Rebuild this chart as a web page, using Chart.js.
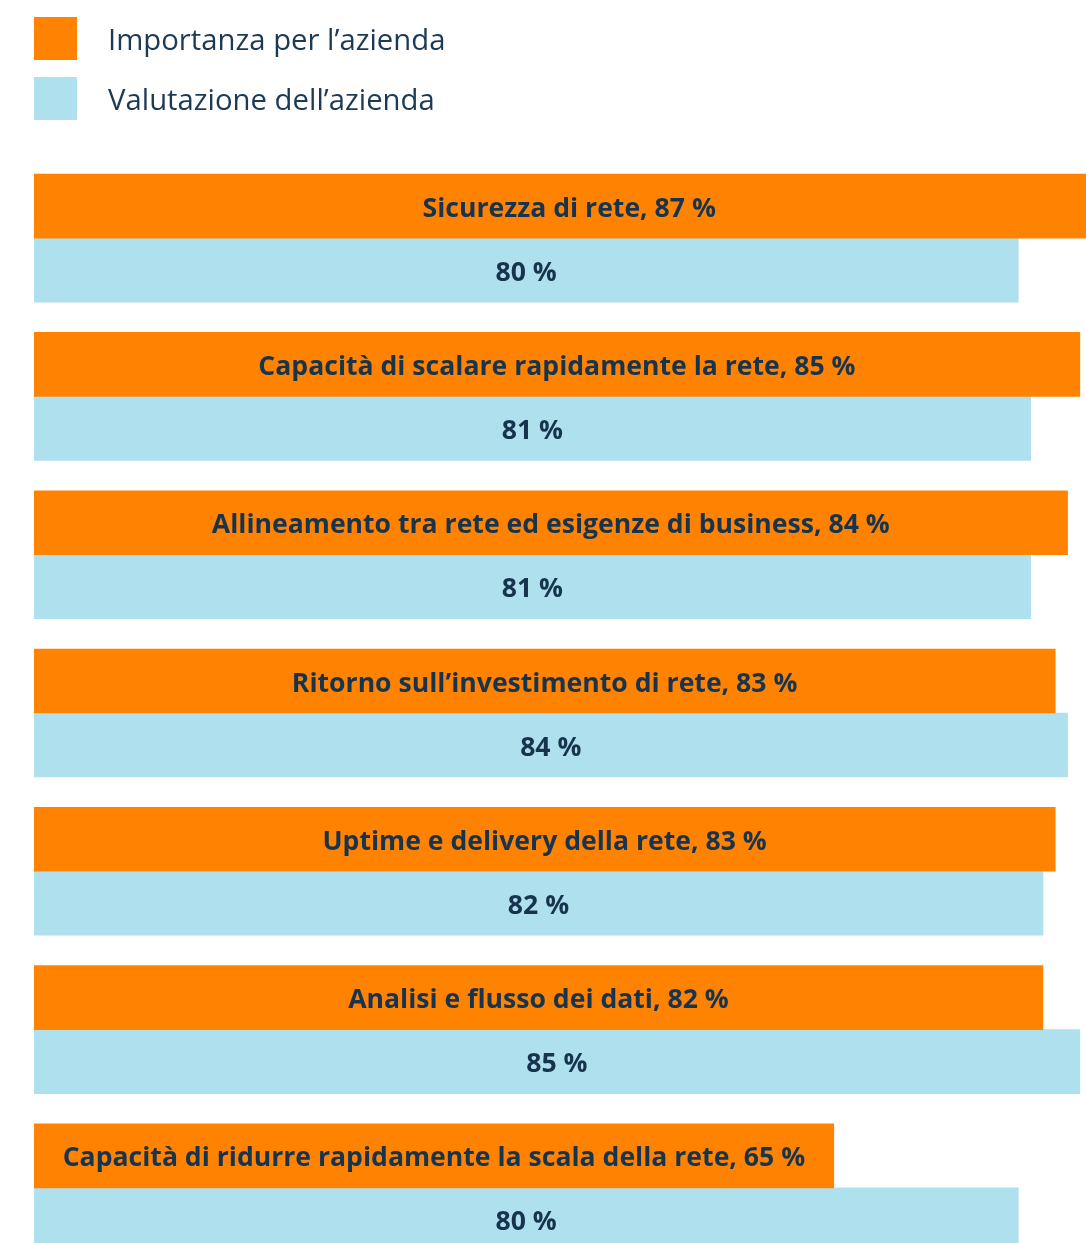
<!DOCTYPE html>
<html lang="it">
<head>
<meta charset="utf-8">
<title>Importanza e valutazione</title>
<script src="https://cdn.jsdelivr.net/npm/chart.js@4/dist/chart.umd.min.js"></script>
<style>
    html, body { margin: 0; padding: 0; background: #fff; overflow: hidden; }
    .wrap { position: relative; width: 1086px; height: 1243px; overflow: hidden; }
    #chart-aziende { position: absolute; left: 0; top: 0; }
    .legenda { position: absolute; left: 34px; top: 17px; font-family: "Open Sans", sans-serif; font-size: 29.3px; color: #1d3a55; }
    .voce { display: flex; align-items: center; height: 43px; margin-bottom: 17px; }
    .quadrato { width: 43px; height: 43px; margin-right: 31px; }
</style>
</head>
<body>
<div class="wrap">
    <canvas id="chart-aziende" width="1086" height="1270"></canvas>
    <div class="legenda" id="legenda"></div>
</div>
<script>
const categorie = [
    'Sicurezza di rete',
    'Capacità di scalare rapidamente la rete',
    'Allineamento tra rete ed esigenze di business',
    'Ritorno sull’investimento di rete',
    'Uptime e delivery della rete',
    'Analisi e flusso dei dati',
    'Capacità di ridurre rapidamente la scala della rete'
];
const importanza = [87, 85, 84, 83, 83, 82, 65];
const valutazione = [80, 81, 81, 84, 82, 85, 80];
const nomiSerie = ['Importanza per l’azienda', 'Valutazione dell’azienda'];
const colori = ['#ff8300', '#aee0ee'];

const chartAziende = document.getElementById('chart-aziende');

// legenda in html, una voce per riga
const renderLegenda = () => {
    const box = document.getElementById('legenda');
    box.innerHTML = '';
    nomiSerie.forEach((nome, i) => {
        const div = document.createElement('div');
        div.classList.add('voce');
        div.innerHTML = `<span class="quadrato" style="background:${colori[i]}"></span><span>${nome}</span>`;
        box.appendChild(div);
    });
}

// etichette scritte dentro le barre
const etichetteBarre = {
    id: 'etichetteBarre',
    afterDatasetsDraw(chart) {
        const ctx = chart.ctx;
        ctx.save();
        ctx.font = 'bold 26.6px "Open Sans", sans-serif';
        ctx.fillStyle = '#17344f';
        ctx.textAlign = 'center';
        ctx.textBaseline = 'middle';
        chart.data.datasets.forEach((ds, d) => {
            const meta = chart.getDatasetMeta(d);
            meta.data.forEach((bar, i) => {
                const testo = d === 0
                    ? `${categorie[i]}, ${ds.data[i]} %`
                    : `${ds.data[i]} %`;
                ctx.fillText(testo, (bar.base + bar.x) / 2, bar.y + 3);
            });
        });
        ctx.restore();
    }
};

const renderChart = () => {
    const ctx = chartAziende.getContext('2d');
    new Chart(ctx, {
        type: 'bar',
        data: {
            labels: categorie,
            datasets: [
                { label: nomiSerie[0], data: importanza, backgroundColor: colori[0], barThickness: 64 },
                { label: nomiSerie[1], data: valutazione, backgroundColor: colori[1], barThickness: 64 }
            ]
        },
        options: {
            indexAxis: 'y',
            responsive: false,
            animation: false,
            layout: { padding: { left: 34, right: 0, top: 159, bottom: 3 } },
            scales: {
                x: { display: false, min: 0, max: 85.5 },
                y: { display: false }
            },
            plugins: {
                legend: { display: false },
                tooltip: { enabled: false }
            }
        },
        plugins: [etichetteBarre]
    });
}

renderLegenda();
renderChart();
</script>
</body>
</html>
